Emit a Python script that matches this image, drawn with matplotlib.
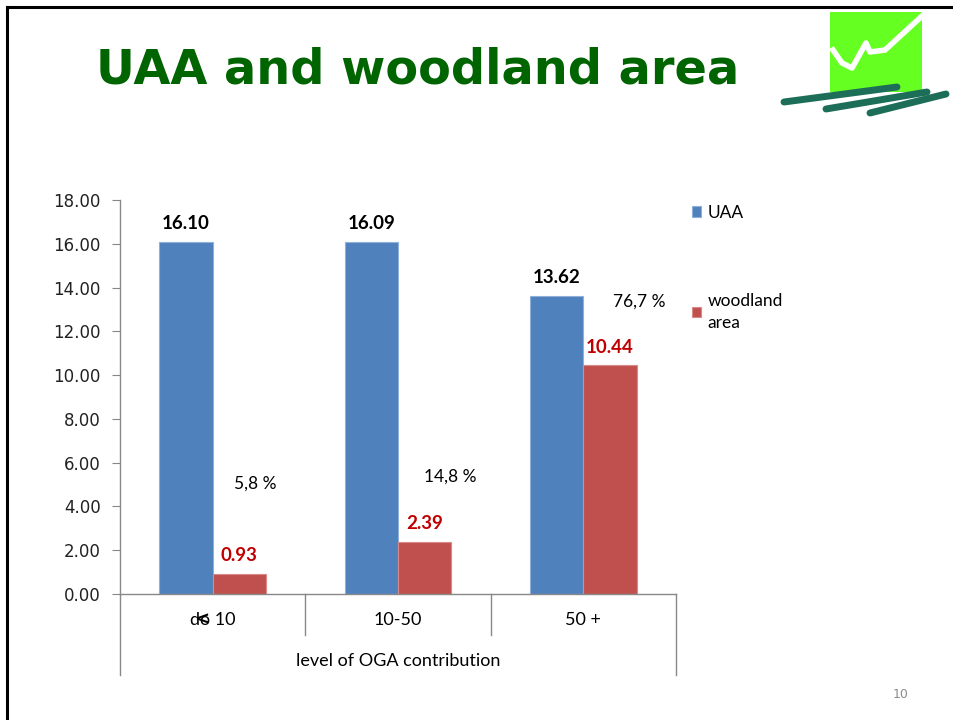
import matplotlib.pyplot as plt
import numpy as np
from matplotlib.lines import Line2D
from matplotlib.patches import Rectangle

# data
categories = ['do 10', '10-50', '50 +']
uaa = [16.10, 16.09, 13.62]
woodland = [0.93, 2.39, 10.44]
shares = ['5,8 %', '14,8 %', '76,7 %']
share_pos = [(0.23, 5.05), (1.28, 5.35), (2.30, 13.35)]

blue = '#4F81BD'
red = '#C0504D'
W, H = 954, 720

fig = plt.figure(figsize=(9.54, 7.2), dpi=100)
fig.patch.set_facecolor('white')

def fx(px):
    return px / W

def fy(py):
    return 1 - py / H

ax = fig.add_axes([fx(120), fy(594), fx(676) - fx(120), fy(200) - fy(594)])

x = np.arange(len(categories))
w = 0.287
b1 = ax.bar(x - w / 2, uaa, w, color=blue, edgecolor='#8fb0d9', lw=0.8, label='UAA')
b2 = ax.bar(x + w / 2, woodland, w, color=red, edgecolor='#d98a88', lw=0.8, label='woodland\narea')

for xi, v in zip(x, uaa):
    ax.text(xi - w / 2, v + 0.45, f'{v:.2f}', ha='center', va='bottom',
            fontsize=13.5, fontweight='bold', family='Lato', color='black')
for xi, v in zip(x, woodland):
    ax.text(xi + w / 2, v + 0.45, f'{v:.2f}', ha='center', va='bottom',
            fontsize=13.5, fontweight='bold', family='Lato', color='#C00000')
for s, (px, py) in zip(shares, share_pos):
    ax.text(px, py, s, ha='center', va='center', fontsize=12.5, family='Lato')

ax.set_xlim(-0.5, 2.5)
ax.set_ylim(0, 18)
ax.set_yticks(np.arange(0, 19, 2))
ax.set_yticklabels([f'{t:.2f}' for t in np.arange(0, 19, 2)], fontsize=12, color='#222222')
ax.tick_params(axis='y', direction='out', length=6, color='#888888', pad=8)
ax.set_xticks([])
for s in ['top', 'right']:
    ax.spines[s].set_visible(False)
for s in ['left', 'bottom']:
    ax.spines[s].set_color('#888888')
    ax.spines[s].set_linewidth(1)

# category separators under the axis
trans = ax.get_xaxis_transform()
for xs in [-0.5, 0.5, 1.5, 2.5]:
    low = -0.206 if xs in (-0.5, 2.5) else -0.104
    ax.add_line(Line2D([xs, xs], [0, low], transform=trans, color='#888888', lw=1, clip_on=False))
for xi, c in zip(x, categories):
    ax.text(xi, -0.066, c, transform=trans, ha='center', va='center', fontsize=13, family='Lato')
ax.text(-0.06, -0.066, '<', transform=trans, ha='center', va='center', fontsize=13,
        family='DejaVu Sans', fontweight='bold')
ax.text(1.0, -0.17, 'level of OGA contribution', transform=trans, ha='center', va='center',
        fontsize=13, family='Lato')

leg = ax.legend(loc='upper left', bbox_to_anchor=(fx(676), fy(189)), bbox_transform=fig.transFigure,
                frameon=False, handlelength=0.55, handleheight=0.55, handletextpad=0.35,
                labelspacing=4.15, prop={'family': 'Lato', 'size': 12.5})
leg.get_texts()[1].set_linespacing(1.45)

# title and slide furniture
fig.text(fx(418), fy(70), 'UAA and woodland area', ha='center', va='center',
         fontsize=34.5, fontweight='bold', color='#006400', family='DejaVu Sans')
fig.text(fx(901), fy(695), '10', ha='center', va='center', fontsize=9, color='#8c8c8c')
fig.add_artist(Line2D([fx(7), fx(7)], [0, fy(7)], color='black', lw=2.2))
fig.add_artist(Line2D([fx(7), 1], [fy(7), fy(7)], color='black', lw=2.2))

# logo
fig.add_artist(Rectangle((fx(830), fy(92)), fx(922) - fx(830), fy(12) - fy(92),
                         facecolor='#66ff22', edgecolor='none'))
zx = [833, 842, 852, 866, 870, 885, 922]
zy = [50, 63, 68, 43, 52, 50, 16]
fig.add_artist(Line2D([fx(v) for v in zx], [fy(v) for v in zy], color='white', lw=4,
                      solid_joinstyle='round'))
for (x0, y0, x1, y1) in [(784, 102, 897, 87), (826, 109, 927, 92), (870, 113, 946, 94)]:
    fig.add_artist(Line2D([fx(x0), fx(x1)], [fy(y0), fy(y1)], color='#1d6e58', lw=5,
                          solid_capstyle='round'))

fig.savefig('out.png', dpi=100)
